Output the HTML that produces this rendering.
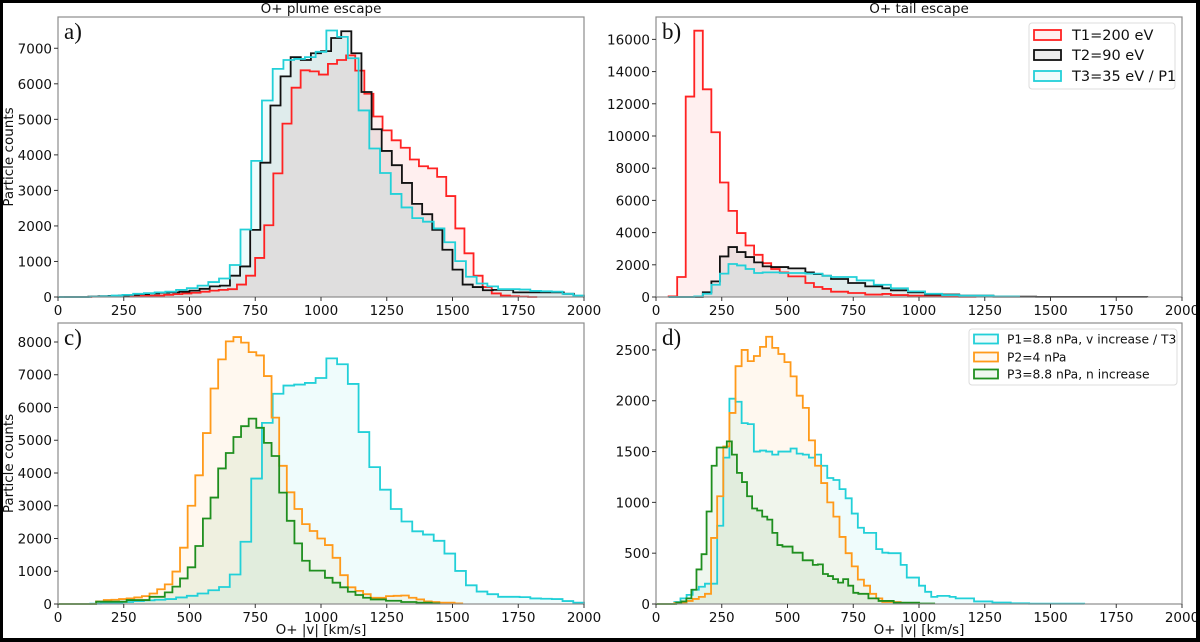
<!DOCTYPE html>
<html><head><meta charset="utf-8">
<style>
html,body{margin:0;padding:0;background:#fff;}
#wrap{position:relative;width:1200px;height:642px;overflow:hidden;background:#fff;}
svg text{font-family:"DejaVu Sans","Liberation Sans",sans-serif;}
</style></head>
<body>
<div id="wrap">
<svg id="fig" width="1200" height="642" viewBox="0 0 1200 642" xmlns="http://www.w3.org/2000/svg">
<rect x="0" y="0" width="1200" height="642" fill="#fff"/>
<g id="panels"></g>
<g>
<rect x="0" y="0" width="1200" height="3" fill="#000"/>
<rect x="0" y="0" width="3" height="642" fill="#000"/>
<rect x="1196" y="0" width="4" height="642" fill="#000"/>
<rect x="0" y="638" width="1200" height="4" fill="#000"/>
</g>
</svg>
</div>
<script>
// ---------- DATA ----------
const aT1Counts = [0,0,0,10,20,20,10,20,30,30,40,60,80,100,120,150,180,200,220,350,600,1100,2020,3480,4880,5890,6380,6350,6260,6560,6670,6800,6370,5720,5080,4690,4410,4200,3870,3680,3620,3380,2840,1930,1230,600,280,100,40,20,10,0];
const aT2Counts = [0,0,0,10,20,30,40,60,80,100,120,130,150,180,230,300,320,600,860,1890,3780,5390,6210,6750,6670,6860,6920,7290,7480,6860,5770,4720,4110,3710,3210,2620,2330,1890,1330,770,350,280,190,200,200,130,130,130,130,130,90,20];
const aT3Counts = [0,0,0,10,20,40,60,90,110,130,150,200,250,320,420,520,900,1900,3830,5530,6420,6670,6700,6750,6900,7500,7320,6720,5250,4180,3490,2900,2520,2220,2120,1930,1540,1010,570,380,300,220,220,210,170,160,150,90,40];
const bT1Counts = [40,1240,12450,16540,12900,10230,7110,5350,3970,3200,2620,2100,1740,1530,1280,1280,870,620,500,330,330,250,250,150,150,190,120,120,80,80,60,40,20,20,10,10];
const bT2Counts = [0,0,0,0,290,970,2520,3100,2790,2480,2150,1900,1860,1860,1780,1780,1530,1420,1320,1120,1120,870,870,660,660,540,410,410,290,290,150,150,150,150,80,80,80,80,20,20,20,20,20,10,10,10,10,10,10,10,10,10,10,10,10,10];
const bT3Counts = [0,0,0,40,200,760,1450,2050,1960,1740,1490,1530,1530,1490,1490,1490,1450,1450,1320,1240,1240,1240,1030,1030,760,760,540,540,350,350,200,200,120,120,80,80,80,80,30,30,30];
const cP2Counts = [0,0,0,0,0,80,120,130,150,170,200,240,320,450,600,990,1720,3000,3930,5220,6580,7470,8020,8150,7980,7690,7590,6960,5690,4220,3410,2900,2440,2230,2000,1800,1410,880,510,400,300,190,190,240,250,260,190,140,80,60,40,40,20];
const cP3Counts = [0,0,0,0,0,70,70,70,70,120,120,120,220,220,355,530,780,1120,1770,2610,3250,4140,4610,5100,5430,5660,5380,4920,4520,3400,2540,1850,1320,1020,1020,800,650,510,375,275,190,140,140,100,100,60,60,40,40,20];
const dP1Counts = [0,0,0,20,55,90,140,170,200,200,770,1440,2020,1990,1780,1770,1500,1510,1500,1470,1500,1500,1530,1480,1470,1440,1470,1360,1240,1220,1130,1040,890,750,700,700,540,505,500,500,385,260,260,180,120,70,80,80,70,55,55,55,25,25,25,15,15,15,7,7,7,3,3,3,3,3,3,3,3,3];
const dP2Counts = [0,0,0,10,15,30,50,70,100,650,1060,1550,1880,2340,2500,2390,2440,2530,2630,2520,2460,2380,2240,2050,1930,1610,1360,1190,1000,860,660,500,370,240,180,100,55,20,20,20,10,10,10];
const dP3Counts = [0,0,0,0,15,25,55,140,340,490,910,1360,1540,1540,1600,1470,1290,1200,1060,940,920,860,830,700,580,565,565,505,505,430,430,385,390,295,275,245,210,245,180,110,100,100,55,55,30,30,30,13,13,13,13,13,5,5,5];
const xTicks = [0,250,500,750,1000,1250,1500,1750,2000];
const aYTicks = [0,1000,2000,3000,4000,5000,6000,7000];
const bYTicks = [0,2000,4000,6000,8000,10000,12000,14000,16000];
const cYTicks = [0,1000,2000,3000,4000,5000,6000,7000,8000];
const dYTicks = [0,500,1000,1500,2000,2500];
const legendB = ["T1=200 eV","T2=90 eV","T3=35 eV / P1"];
const legendD = ["P1=8.8 nPa, v increase / T3","P2=4 nPa","P3=8.8 nPa, n increase"];

// ---------- RENDER ----------
const NS = "http://www.w3.org/2000/svg";
const root = document.getElementById('panels');
function mk(tag, attrs, parent){ const e=document.createElementNS(NS,tag); for(const k in attrs) e.setAttribute(k,attrs[k]); (parent||root).appendChild(e); return e; }

const RED="#ff2222", BLK="#111111", CYA="#22d0d8", ORG="#ff9a1a", GRN="#1f8f1f";

const panels = [
 {id:'a', x0:58, x1:584, y0:17, y1:297, ymax:7880, yt:aYTicks, title:"O+ plume escape", ylabel:true, xlabel:false,
  series:[{n:'t1',c:RED,v0:23,bw:34.6,d:aT1Counts},{n:'t2',c:BLK,v0:0,bw:2000/52,d:aT2Counts},{n:'t3',c:CYA,v0:0,bw:2000/49,d:aT3Counts}]},
 {id:'b', x0:656, x1:1182, y0:17, y1:297, ymax:17390, yt:bYTicks, title:"O+ tail escape", ylabel:false, xlabel:false,
  series:[{n:'t1',c:RED,v0:48,bw:32.5,d:bT1Counts},{n:'t2',c:BLK,v0:48,bw:32.5,d:bT2Counts},{n:'t3',c:CYA,v0:48,bw:32.5,d:bT3Counts}]},
 {id:'c', x0:58, x1:584, y0:323, y1:604, ymax:8580, yt:cYTicks, title:null, ylabel:true, xlabel:true,
  series:[{n:'p1',c:CYA,v0:0,bw:2000/49,d:aT3Counts},{n:'p2',c:ORG,v0:0,bw:29,d:cP2Counts},{n:'p3',c:GRN,v0:0,bw:29,d:cP3Counts}]},
 {id:'d', x0:656, x1:1182, y0:323, y1:604, ymax:2765, yt:dYTicks, title:null, ylabel:false, xlabel:true,
  series:[{n:'p1',c:CYA,v0:0,bw:2000/86,d:dP1Counts},{n:'p2',c:ORG,v0:0,bw:2000/86,d:dP2Counts},{n:'p3',c:GRN,v0:0,bw:2000/104,d:dP3Counts}]}
];

panels.forEach(p=>{
  const g = mk('g',{});
  
  
  const xs = v => p.x0 + (v/2000)*(p.x1-p.x0);
  const ys = c => p.y1 - (c/p.ymax)*(p.y1-p.y0);
  p.series.forEach(s=>{
    let dstr = 'M'+xs(s.v0)+','+ys(0);
    s.d.forEach((c,i)=>{ const a=s.v0+i*s.bw, b=a+s.bw; dstr+=' L'+xs(a)+','+ys(c)+' L'+xs(b)+','+ys(c); });
    dstr += ' L'+xs(s.v0+s.d.length*s.bw)+','+ys(0)+' Z';
    const f = mk('path',{d:dstr,fill:s.c,'fill-opacity':0.07,stroke:'none'},g);
    
    
  });
  p.series.forEach(s=>{
    let dstr = 'M'+xs(s.v0)+','+ys(0);
    s.d.forEach((c,i)=>{ const a=s.v0+i*s.bw, b=a+s.bw; dstr+=' L'+xs(a)+','+ys(c)+' L'+xs(b)+','+ys(c); });
    dstr += ' L'+xs(s.v0+s.d.length*s.bw)+','+ys(0);
    const l = mk('path',{d:dstr,fill:'none',stroke:s.c,'stroke-width':1.8,'stroke-linejoin':'miter'},g);
    
    
  });
  const fr = mk('rect',{x:p.x0,y:p.y0,width:p.x1-p.x0,height:p.y1-p.y0,fill:'none',stroke:'#8c8c8c','stroke-width':1.2},g);
  
  
  xTicks.forEach(t=>{
    const x=xs(t);
    const tk = mk('line',{x1:x,y1:p.y1,x2:x,y2:p.y1+4,stroke:'#333','stroke-width':1},g);
    
    
    const tx = mk('text',{x:x,y:p.y1+18,'text-anchor':'middle','font-size':'13.5',fill:'#111'},g);
    
    
    tx.textContent=t;
  });
  p.yt.forEach(t=>{
    const y=ys(t);
    const tk = mk('line',{x1:p.x0-4,y1:y,x2:p.x0,y2:y,stroke:'#333','stroke-width':1},g);
    
    
    const tx = mk('text',{x:p.x0-6,y:y+5,'text-anchor':'end','font-size':'13.5',fill:'#111'},g);
    
    
    tx.textContent=t;
  });
  const pl = mk('text',{x:p.x0+6,y:p.y0+22,'font-size':'23',fill:'#111',style:'font-family:"Liberation Serif",serif'},g);
  
  
  pl.textContent=p.id+')';
  if(p.title){
    const t = mk('text',{x:(p.x0+p.x1)/2,y:13,'text-anchor':'middle','font-size':'13.5',fill:'#111'},g);
    
    
    t.textContent=p.title;
  }
  if(p.ylabel){
    const cy=(p.y0+p.y1)/2;
    const t = mk('text',{x:0,y:0,transform:'translate(13,'+cy+') rotate(-90)','text-anchor':'middle','font-size':'13.5',fill:'#111'},g);
    
    
    t.textContent='Particle counts';
  }
  if(p.xlabel){
    const t = mk('text',{x:(p.x0+p.x1)/2,y:634,'text-anchor':'middle','font-size':'13.5',fill:'#111'},g);
    
    
    t.textContent='O+ |v| [km/s]';
  }
});

function legend(bx,by,bw,bh,rows,cols,labels,patchX,patchW,patchH,textX,fs,id){
  const g = mk('g',{});
  
  
  mk('rect',{x:bx,y:by,width:bw,height:bh,rx:3,fill:'#fff','fill-opacity':0.85,stroke:'#dcdcdc','stroke-width':1},g);
  labels.forEach((lab,i)=>{
    const e = mk('g',{},g);
    
    
    mk('rect',{x:patchX,y:rows[i]-patchH/2,width:patchW,height:patchH,fill:cols[i],'fill-opacity':0.07,stroke:cols[i],'stroke-width':1.8},e);
    const t = mk('text',{x:textX,y:rows[i]+fs*0.36,'font-size':fs,fill:'#111'},e);
    t.textContent=lab;
  });
}
legend(1029,23,146,66,[35,55,76],[RED,BLK,CYA],legendB,1034,27,10,1072,14.5,'b');
legend(969,329,208,56,[339,357,374],[CYA,ORG,GRN],legendD,974,24,9,1007,12.3,'d');
</script>
</body></html>
